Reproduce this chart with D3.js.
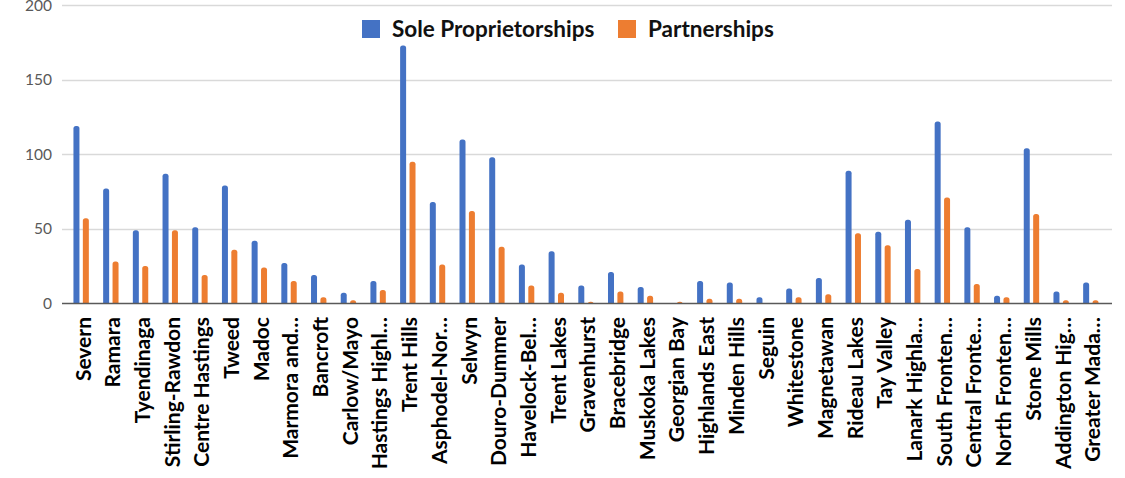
<!DOCTYPE html>
<html><head><meta charset="utf-8">
<script src="https://cdn.jsdelivr.net/npm/d3@7"></script>
<style>body{margin:0;background:#fff}svg{display:block}</style>
</head><body><svg id="c" width="1125" height="478"></svg>
<script>
const categories = ["Severn","Ramara","Tyendinaga","Stirling-Rawdon","Centre Hastings","Tweed","Madoc","Marmora and…","Bancroft","Carlow/Mayo","Hastings Highl…","Trent Hills","Asphodel-Nor…","Selwyn","Douro-Dummer","Havelock-Bel…","Trent Lakes","Gravenhurst","Bracebridge","Muskoka Lakes","Georgian Bay","Highlands East","Minden Hills","Seguin","Whitestone","Magnetawan","Rideau Lakes","Tay Valley","Lanark Highla…","South Fronten…","Central Fronte…","North Fronten…","Stone Mills","Addington Hig…","Greater Mada…"];
const soleProprietorships = [119,77,49,87,51,79,42,27,19,7,15,173,68,110,98,26,35,12,21,11,0,15,14,4,10,17,89,48,56,122,51,5,104,8,14];
const partnerships = [57,28,25,49,19,36,24,15,4,2,9,95,26,62,38,12,7,1,8,5,1,3,3,0,4,6,47,39,23,71,13,4,60,2,2];
const seriesNames = ["Sole Proprietorships","Partnerships"];
const yTicks = [0,50,100,150,200];
const colors = ["#4472C4","#ED7D31"];

const svg = d3.select("#c");
const gridL = 62, gridR = 1112;
const x = d3.scaleBand().domain(categories).range([66.3, 1105.7]);
const y = d3.scaleLinear().domain([0,200]).range([303.3, 5.3]);
const FONT = "Lato, 'Open Sans', sans-serif";

// gridlines
svg.append("g").selectAll("line").data(yTicks.filter(d=>d>0)).join("line")
  .attr("x1",gridL).attr("x2",gridR).attr("y1",d=>Math.round(y(d))+0.5).attr("y2",d=>Math.round(y(d))+0.5)
  .attr("stroke","#d9d9d9").attr("stroke-width",1.3);

// y labels
svg.append("g").selectAll("text").data(yTicks).join("text")
  .attr("x",52).attr("y",d=>y(d)).attr("dy","0.35em").attr("text-anchor","end")
  .attr("font-family",FONT).attr("font-size",15.5).attr("fill","#595959")
  .text(d=>d);

// bars
svg.append("clipPath").attr("id","clip").append("rect").attr("x",0).attr("y",0).attr("width",1125).attr("height",y(0));
const bw = 6, off = 4.7;
const bars = svg.append("g").attr("clip-path","url(#clip)");
[soleProprietorships, partnerships].forEach((vals,si)=>{
  bars.append("g").selectAll("rect").data(vals).join("rect")
    .attr("x",(d,i)=>x(categories[i])+x.bandwidth()/2 + (si===0?-off:off) - bw/2)
    .attr("y",d=>y(d))
    .attr("width",bw).attr("height",d=>y(0)-y(d)+4)
    .attr("rx",2.5).attr("fill",colors[si]);
});

// axis line
svg.append("line").attr("x1",gridL).attr("x2",gridR).attr("y1",303.5).attr("y2",303.5)
  .attr("stroke","#595959").attr("stroke-width",1.3);

// category labels
svg.append("g").selectAll("text").data(categories).join("text")
  .attr("transform",d=>`translate(${x(d)+x.bandwidth()/2+2},317) rotate(-90)`)
  .attr("dy","0.35em").attr("text-anchor","end")
  .attr("font-family",FONT).attr("font-weight","bold").attr("font-size",21)
  .attr("fill","#000").text(d=>d);

// legend
const lg = svg.append("g");
const legX = [362, 618];
seriesNames.forEach((n,i)=>{
  lg.append("rect").attr("x",legX[i]).attr("y",20).attr("width",18).attr("height",18).attr("fill",colors[i]);
  lg.append("text").attr("x",legX[i]+30).attr("y",29).attr("dy","0.36em")
    .attr("font-family",FONT).attr("font-weight","bold").attr("font-size",22.5)
    .attr("fill","#111").text(n);
});
</script></body></html>
